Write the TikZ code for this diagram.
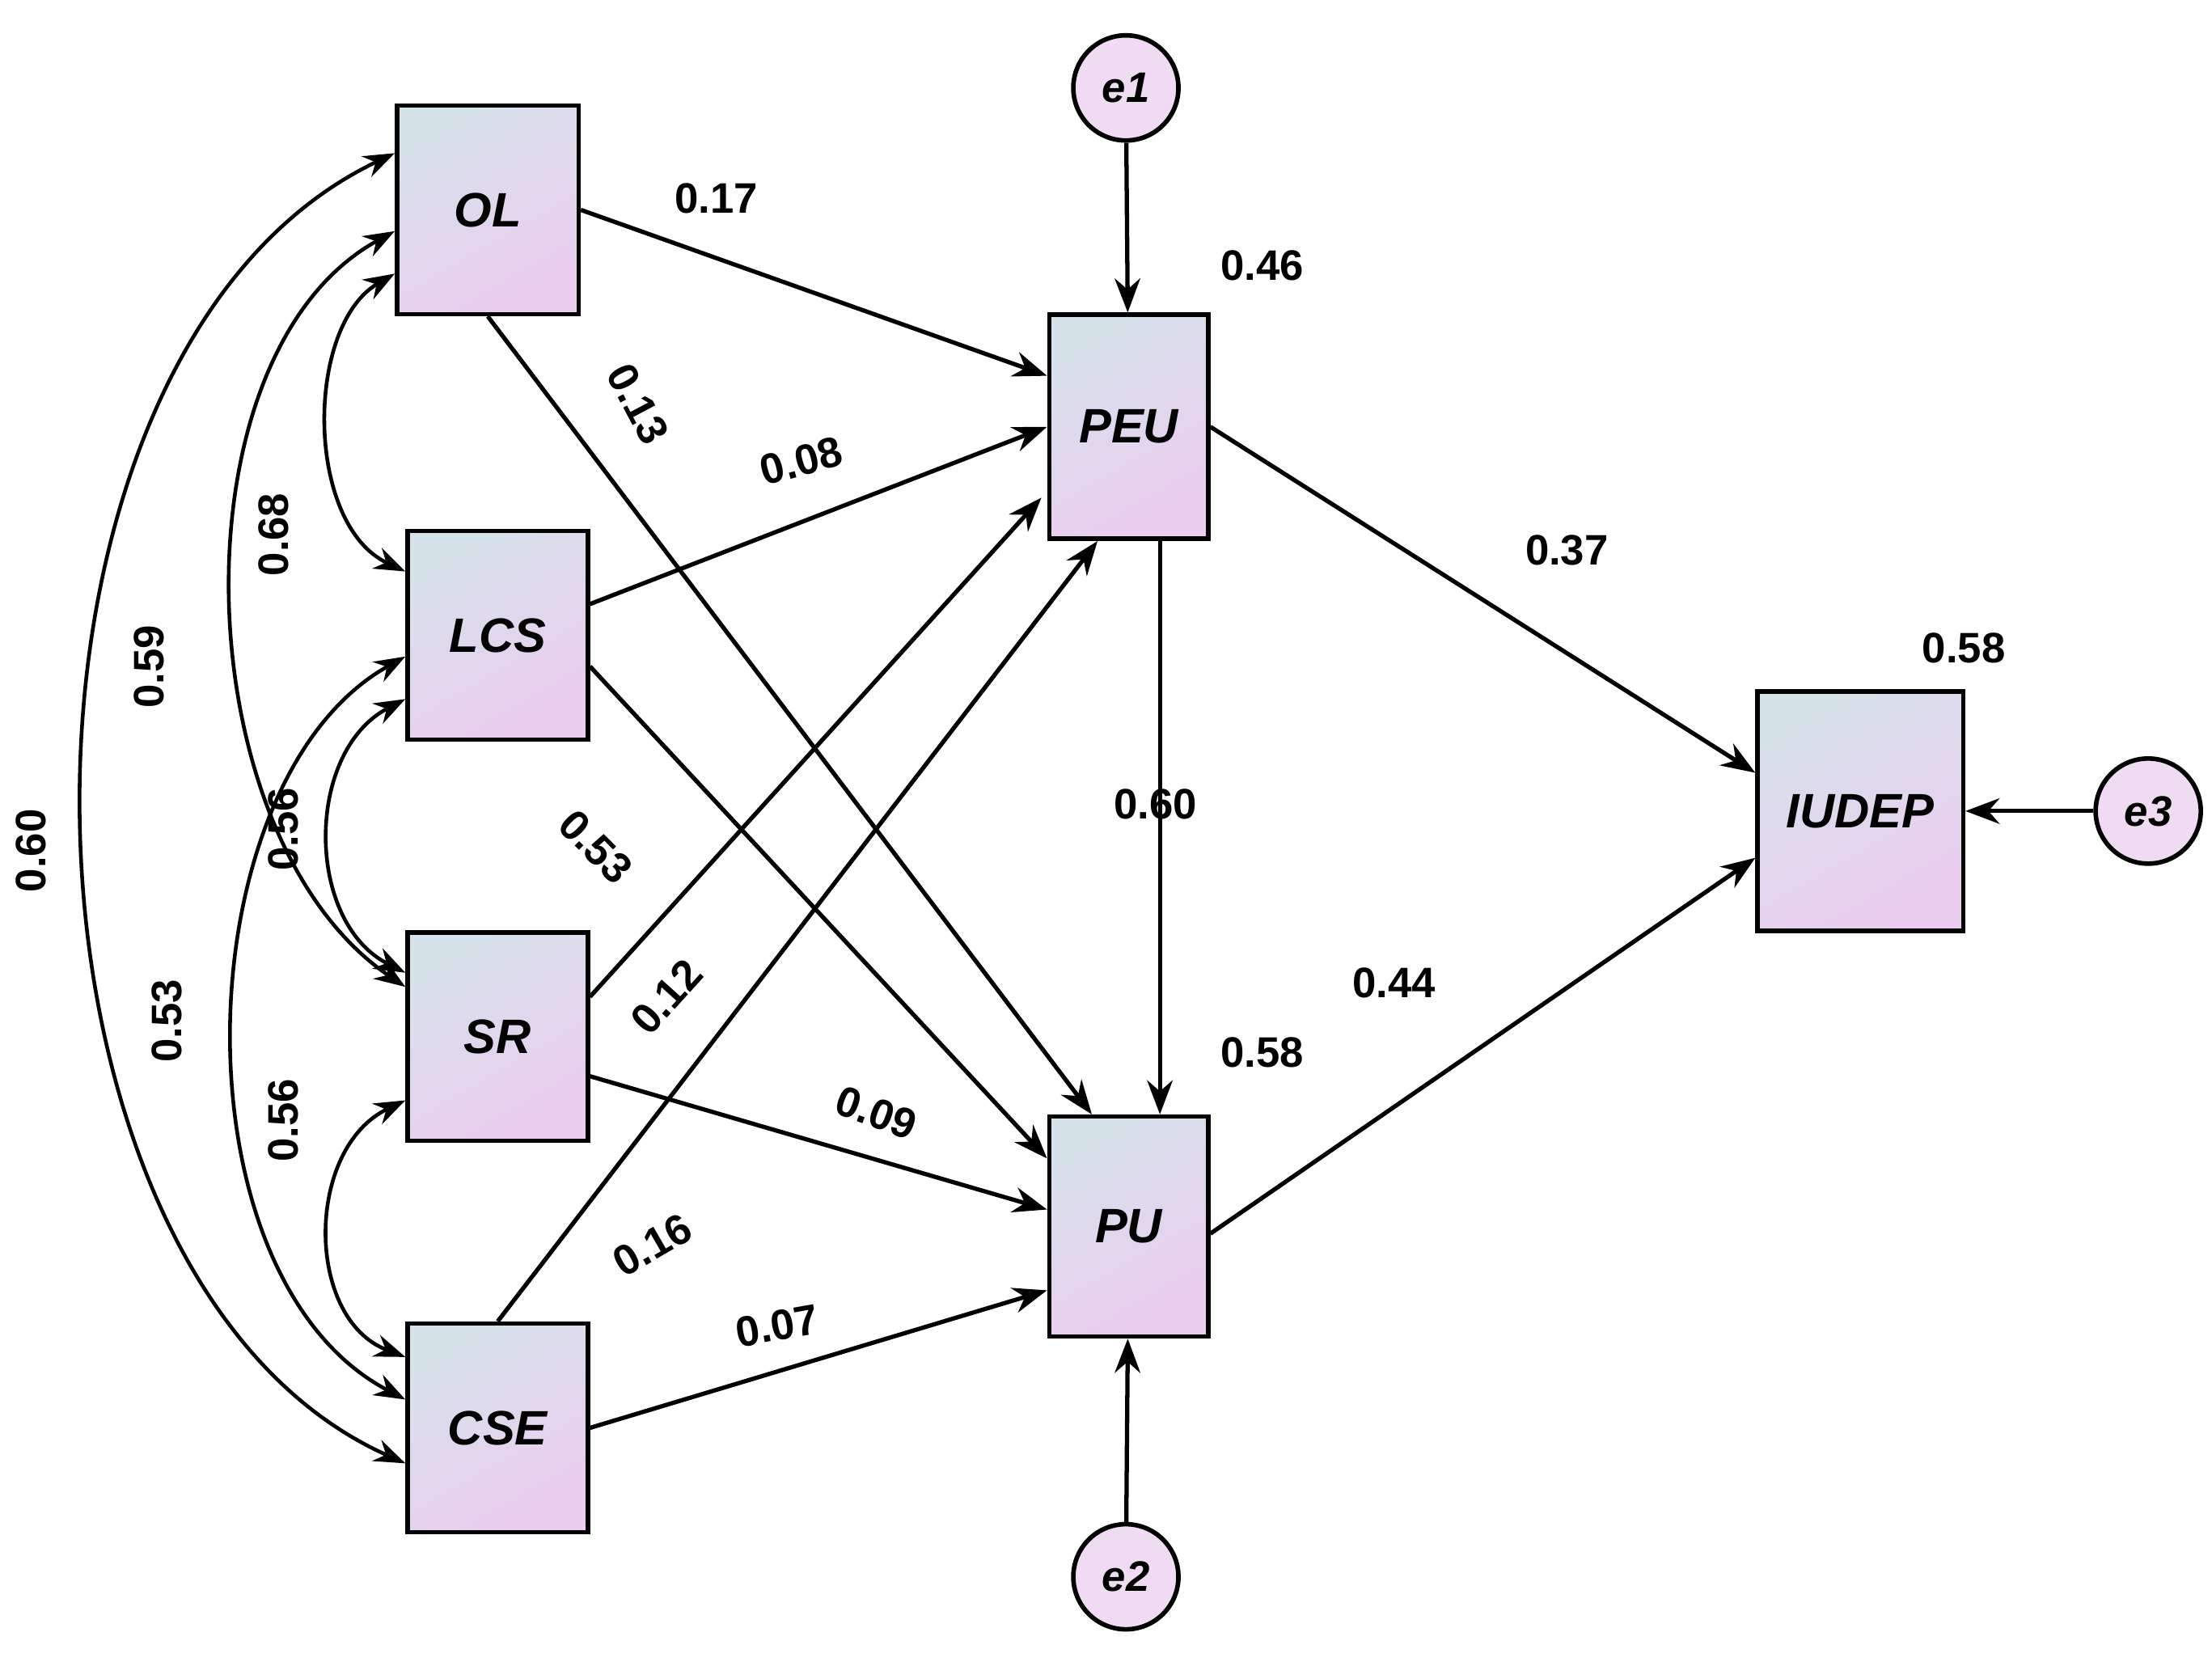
\documentclass[tikz,border=0pt]{standalone}
\usepackage{fontspec}
\setmainfont{Liberation Sans}
\usetikzlibrary{arrows.meta,calc}
\begin{document}
\begin{tikzpicture}[x=0.01753cm,y=-0.01753cm,
 box/.style={draw,line width=1.6pt,shading=axis,left color=white,right color=white,
   top color={rgb,255:red,214;green,226;blue,234},bottom color={rgb,255:red,236;green,204;blue,240},
   shading angle=30,font=\bfseries\itshape\fontsize{17}{17}\selectfont},
 err/.style={draw,line width=1.6pt,circle,minimum size=1.3cm,fill={rgb,255:red,240;green,220;blue,242},
   font=\bfseries\itshape\fontsize{15}{15}\selectfont,inner sep=0pt},
 arr/.style={line width=1.5pt,-{Stealth[length=12pt,width=9pt]}},
 cov/.style={line width=1.3pt,{Stealth[length=11pt,width=8pt]}-{Stealth[length=11pt,width=8pt]}},
 lab/.style={font=\bfseries\fontsize{15}{15}\selectfont}]
\useasboundingbox (0,0) rectangle (1560,1172);
\node[box,minimum width=128*0.01753cm,minimum height=147*0.01753cm] (OL) at (344,148) {OL};
\node[box,minimum width=127*0.01753cm,minimum height=147*0.01753cm] (LCS) at (351,448) {LCS};
\node[box,minimum width=127*0.01753cm,minimum height=147*0.01753cm] (SR) at (351,731) {SR};
\node[box,minimum width=127*0.01753cm,minimum height=147*0.01753cm] (CSE) at (351,1007) {CSE};
\node[box,minimum width=112*0.01753cm,minimum height=158*0.01753cm] (PEU) at (796,301) {PEU};
\node[box,minimum width=112*0.01753cm,minimum height=155*0.01753cm] (PU) at (796,865) {PU};
\node[box,minimum width=145*0.01753cm,minimum height=169*0.01753cm] (IUDEP) at (1312,572) {IUDEP};
\node[err] (e1) at (794,62) {e1};
\node[err] (e2) at (794,1112) {e2};
\node[err] (e3) at (1515,572) {e3};
% paths
\draw[arr] ($(OL.east)+(0,0)$) -- ($(PEU.west)+(0,-36)$);
\draw[arr] ($(OL.south)+(0,0)$) -- ($(PU.north)+(-26,0)$);
\draw[arr] ($(LCS.east)+(0,-22)$) -- ($(PEU.west)+(0,0)$);
\draw[arr] ($(LCS.east)+(0,22)$) -- ($(PU.west)+(0,-48)$);
\draw[arr] ($(SR.east)+(0,-28)$) -- ($(PEU.west)+(-4,50)$);
\draw[arr] ($(SR.east)+(0,28)$) -- ($(PU.west)+(0,-12)$);
\draw[arr] ($(CSE.north)+(0,0)$) -- ($(PEU.south)+(-22,0)$);
\draw[arr] ($(CSE.east)+(0,0)$) -- ($(PU.west)+(0,45)$);
\draw[arr] ($(PEU.south)+(22,0)$) -- ($(PU.north)+(22,0)$);
\draw[arr] ($(PEU.east)+(0,0)$) -- ($(IUDEP.west)+(0,-27)$);
\draw[arr] ($(PU.east)+(0,5)$) -- ($(IUDEP.west)+(0,33)$);
\draw[arr] (e1) -- (PEU);
\draw[arr] (e2) -- (PU);
\draw[arr] (e3) -- (IUDEP);
% covariances
\draw[cov] ($(OL.west)+(0,45)$) .. controls (215,230) and (215,370) .. ($(LCS.west)+(0,-45)$);
\draw[cov] ($(OL.west)+(0,15)$) .. controls (120,250) and (130,590) .. ($(SR.west)+(0,-35)$);
\draw[cov] ($(OL.west)+(0,-40)$) .. controls (-20,250) and (-10,900) .. ($(CSE.west)+(0,25)$);
\draw[cov] ($(LCS.west)+(0,45)$) .. controls (215,530) and (215,650) .. ($(SR.west)+(0,-45)$);
\draw[cov] ($(LCS.west)+(0,15)$) .. controls (130,550) and (120,900) .. ($(CSE.west)+(0,-20)$);
\draw[cov] ($(SR.west)+(0,45)$) .. controls (215,810) and (215,930) .. ($(CSE.west)+(0,-50)$);
% labels
\node[lab] at (505,140) {0.17};
\node[lab,rotate=-62] at (450,285) {0.13};
\node[lab,rotate=15] at (565,325) {0.08};
\node[lab] at (890,187) {0.46};
\node[lab] at (1105,388) {0.37};
\node[lab] at (1385,457) {0.58};
\node[lab] at (815,567) {0.60};
\node[lab] at (983,693) {0.44};
\node[lab] at (890,742) {0.58};
\node[lab,rotate=-45] at (420,597) {0.53};
\node[lab,rotate=48] at (470,703) {0.12};
\node[lab,rotate=-20] at (618,785) {0.09};
\node[lab,rotate=30] at (460,878) {0.16};
\node[lab,rotate=10] at (548,935) {0.07};
\node[lab,rotate=90] at (193,377) {0.68};
\node[lab,rotate=90] at (105,470) {0.59};
\node[lab,rotate=90] at (200,585) {0.56};
\node[lab,rotate=90] at (22,600) {0.60};
\node[lab,rotate=90] at (118,720) {0.53};
\node[lab,rotate=90] at (200,790) {0.56};
\end{tikzpicture}
\end{document}
